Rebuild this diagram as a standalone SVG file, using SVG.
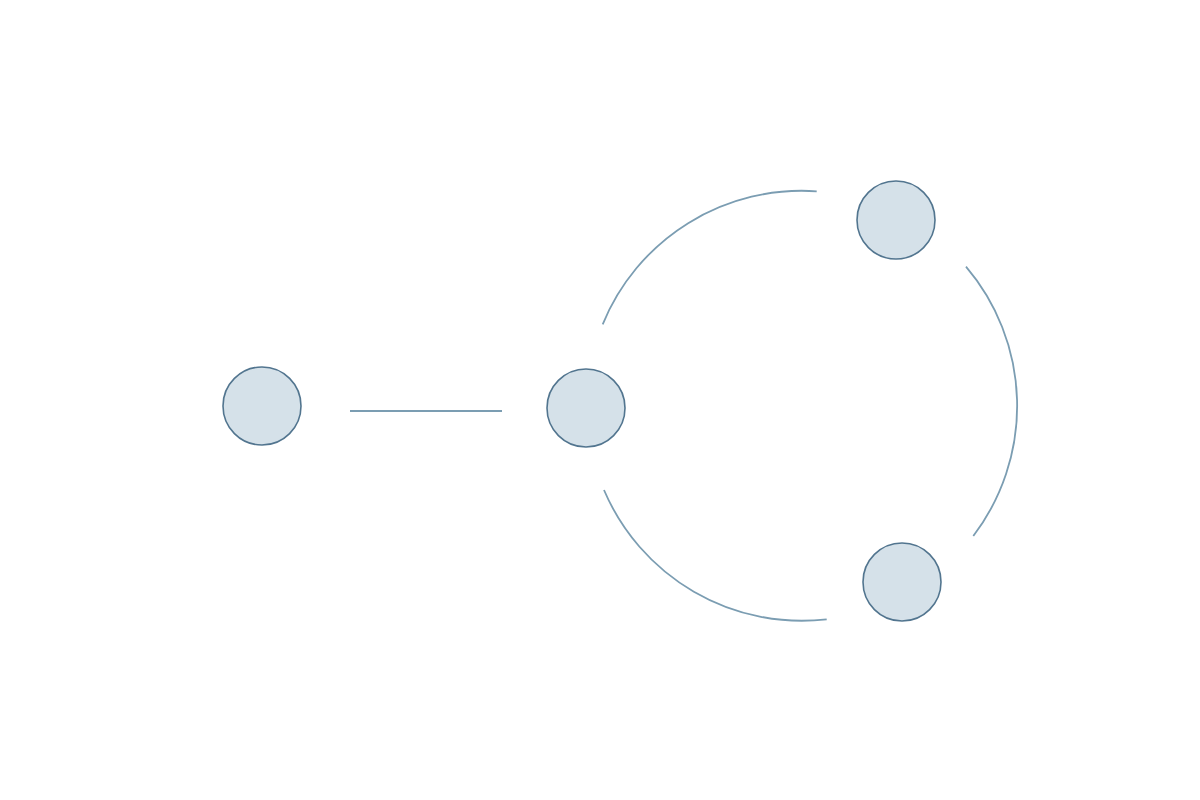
<svg xmlns="http://www.w3.org/2000/svg" width="1200" height="800" viewBox="0 0 1200 800">
<style>
.node{fill:#d5e1e9;stroke:#52758f;stroke-width:1.6}
.edge{fill:none;stroke:#7b9db2;stroke-width:1.8}
</style>
<rect width="1200" height="800" fill="#ffffff"/>
<g id="connectors">
<line class="edge" x1="350" y1="411" x2="502" y2="411"/>
<path class="edge" d="M602.7,324.3 A215,215 0 0 1 816.7,191.3"/>
<path class="edge" d="M966,266.7 A215,215 0 0 1 973.3,536"/>
<path class="edge" d="M604,490 A215,215 0 0 0 826.7,619.3"/>
</g>
<g id="node1"><circle class="node" cx="262" cy="406" r="39"/></g>
<g id="node2"><circle class="node" cx="586" cy="408" r="39"/></g>
<g id="node3"><circle class="node" cx="896" cy="220" r="39"/></g>
<g id="node4"><circle class="node" cx="902" cy="582" r="39"/></g>
</svg>
